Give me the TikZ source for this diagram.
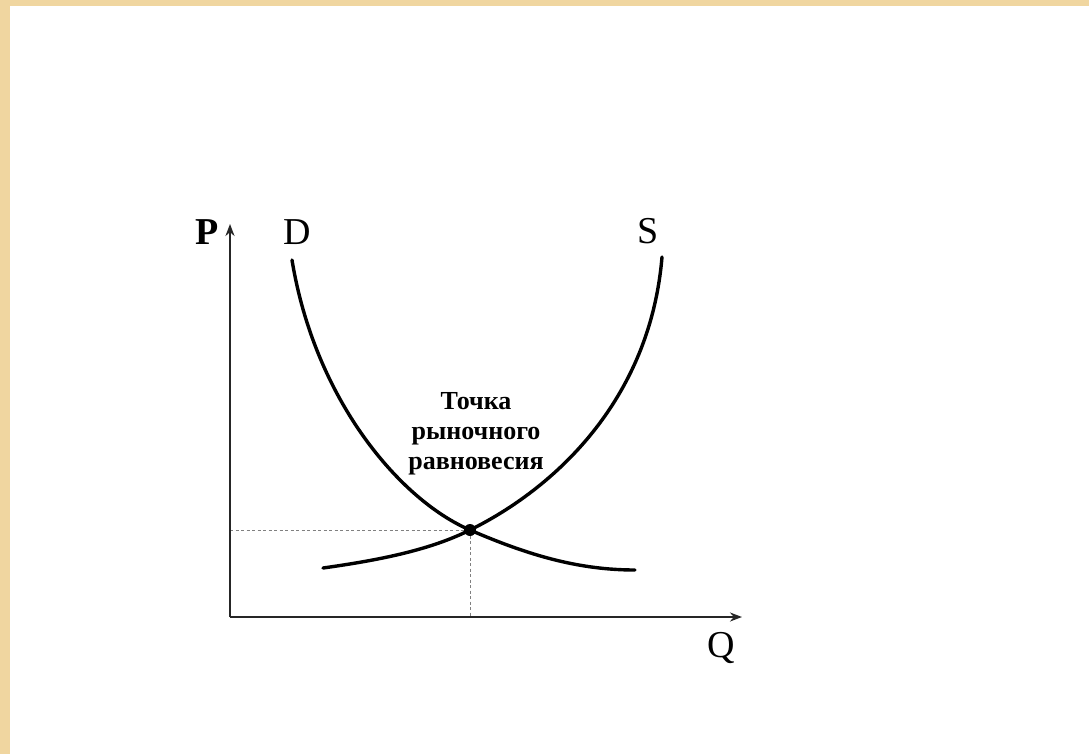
\documentclass[tikz,border=0pt]{standalone}
\usepackage{fontspec}
\setmainfont{Liberation Serif}
\usetikzlibrary{arrows.meta}
\definecolor{beige}{RGB}{240,214,160}
\begin{document}
\begin{tikzpicture}[x=1pt,y=-1pt,
  axis/.style={line width=2.8pt, draw=black!85, -{Stealth[length=12pt,width=9pt]}},
  curve/.style={line width=3.4pt, line cap=round},
  guide/.style={draw=gray, line width=1pt, dash pattern=on 3pt off 2.5pt},
  big/.style={inner sep=0pt, font=\fontsize{38}{38}\selectfont},
  bigb/.style={inner sep=0pt, font=\bfseries\fontsize{38}{38}\selectfont},
  note/.style={inner sep=0pt, align=center, font=\bfseries\fontsize{26}{30}\selectfont}]
\fill[beige] (0,0) rectangle (1089,754);
\fill[white] (10,6) rectangle (1089,754);
\useasboundingbox (0,0) rectangle (1089,754);

\coordinate (O) at (230,617);
\coordinate (Ytop) at (230,224);
\coordinate (Xend) at (742,617);
\coordinate (E) at (470,530);
\coordinate (Ey) at (230,530);
\coordinate (Ex) at (470,617);
\coordinate (D0) at (292,260);
\coordinate (D1) at (635,570);
\coordinate (S0) at (323,568);
\coordinate (S1) at (662,257);

\draw[guide] (Ey) -- (E);
\draw[guide] (E) -- (Ex);
\draw[axis] (O) -- (Ytop);
\draw[axis] (O) -- (Xend);

\draw[curve] (D0) .. controls (315,400) and (400,500) .. (E) .. controls (530,556) and (580,570) .. (D1);
\draw[curve] (S0) .. controls (380,560) and (430,550) .. (E) .. controls (555,488) and (650,400) .. (S1);
\fill (E) circle (6);

\node[bigb] (P) at (207,232) {P};
\node[big] (D) at (297,232) {D};
\node[big] (S) at (648,231) {S};
\node[big] (Q) at (721,648) {Q};
\node[note] (lab) at (476,434) {Точка\\рыночного\\равновесия};
\end{tikzpicture}
\end{document}
